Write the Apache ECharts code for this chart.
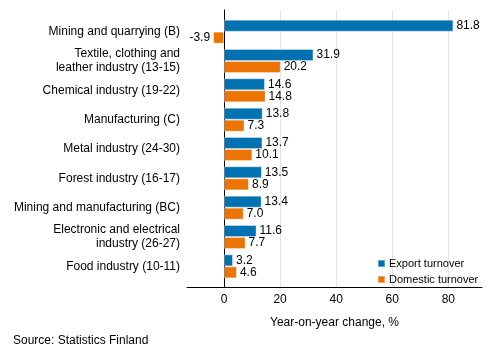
<!DOCTYPE html>
<html>
<head>
<meta charset="utf-8">
<script src="https://cdn.jsdelivr.net/npm/echarts@6/dist/echarts.min.js"></script>
<style>html,body{margin:0;padding:0;background:#fff;}#c{width:493px;height:360px;}</style>
</head>
<body>
<div id="c"></div>
<script>
var categories = [
  "Mining and quarrying (B)",
  "Textile, clothing and\nleather industry (13-15)",
  "Chemical industry (19-22)",
  "Manufacturing (C)",
  "Metal industry (24-30)",
  "Forest industry (16-17)",
  "Mining and manufacturing (BC)",
  "Electronic and electrical\nindustry (26-27)",
  "Food industry (10-11)"
];
var exportTurnover = [81.8, 31.9, 14.6, 13.8, 13.7, 13.5, 13.4, 11.6, 3.2];
var domesticTurnover = [-3.9, 20.2, 14.8, 7.3, 10.1, 8.9, 7.0, 7.7, 4.6];
var xTicks = [0, 20, 40, 60, 80];
var seriesNames = ["Export turnover", "Domestic turnover"];

var FONT = "Liberation Sans, Arial, sans-serif";
var XMIN = -13.2, XMAX = 92;

function items(arr) {
  return arr.map(function (v) {
    return { value: v, label: { position: v < 0 ? 'left' : 'right' } };
  });
}
var lbl = {
  show: true, fontFamily: FONT, fontSize: 12, color: '#000', distance: 3,
  formatter: function (p) { return p.value.toFixed(1); }
};

var chart = echarts.init(document.getElementById('c'), null, { renderer: 'canvas' });
chart.setOption({
  animation: false,
  textStyle: { fontFamily: FONT },
  grid: [
    { left: 187, right: 11, top: 10, bottom: 73 },
    { left: 187, right: 11, top: 17, height: 264 }
  ],
  legend: {
    orient: 'vertical', left: 372, top: 253, itemWidth: 7, itemHeight: 7, itemGap: 5,
    icon: 'rect', data: seriesNames,
    textStyle: { fontFamily: FONT, fontSize: 11, color: '#000', padding: [0, 0, 0, -1] }
  },
  graphic: [{
    type: 'text', left: 13, top: 335,
    style: { text: 'Source: Statistics Finland', font: '12px ' + FONT, fill: '#000' }
  }],
  xAxis: [{
    gridIndex: 0, type: 'value', min: XMIN, max: XMAX,
    axisLine: { show: true, onZero: false, lineStyle: { color: '#000', width: 1 } },
    axisTick: { show: false, customValues: xTicks },
    axisLabel: { customValues: xTicks, fontFamily: FONT, fontSize: 12, color: '#000', margin: 7 },
    splitLine: { show: true, lineStyle: { color: '#e3e3e3', width: 1 } },
    name: 'Year-on-year change, %', nameLocation: 'middle', nameGap: 30,
    nameTextStyle: { fontFamily: FONT, fontSize: 12, color: '#000' }
  }, {
    gridIndex: 1, type: 'value', min: XMIN, max: XMAX, show: false,
    splitLine: { show: false }
  }],
  yAxis: [{
    gridIndex: 0, type: 'category', data: categories, inverse: true,
    axisLine: { show: true, onZero: true, lineStyle: { color: '#000', width: 1 } },
    axisTick: { show: false }, axisLabel: { show: false }, splitLine: { show: false }
  }, {
    gridIndex: 1, type: 'category', data: categories, inverse: true,
    axisLine: { show: false, onZero: false }, axisTick: { show: false },
    axisLabel: { fontFamily: FONT, fontSize: 12, color: '#000', margin: 7, lineHeight: 14, align: 'right' }
  }],
  series: [{
    name: seriesNames[0], type: 'bar', xAxisIndex: 1, yAxisIndex: 1,
    data: items(exportTurnover), barWidth: 12, barGap: '0%',
    itemStyle: { color: '#0072b1', borderColor: 'rgba(255,255,255,0.35)', borderWidth: 1 },
    label: lbl
  }, {
    name: seriesNames[1], type: 'bar', xAxisIndex: 1, yAxisIndex: 1,
    data: items(domesticTurnover), barWidth: 12, barGap: '0%',
    itemStyle: { color: '#eb7405', borderColor: 'rgba(255,255,255,0.35)', borderWidth: 1 },
    label: lbl
  }]
});
</script>
</body>
</html>
